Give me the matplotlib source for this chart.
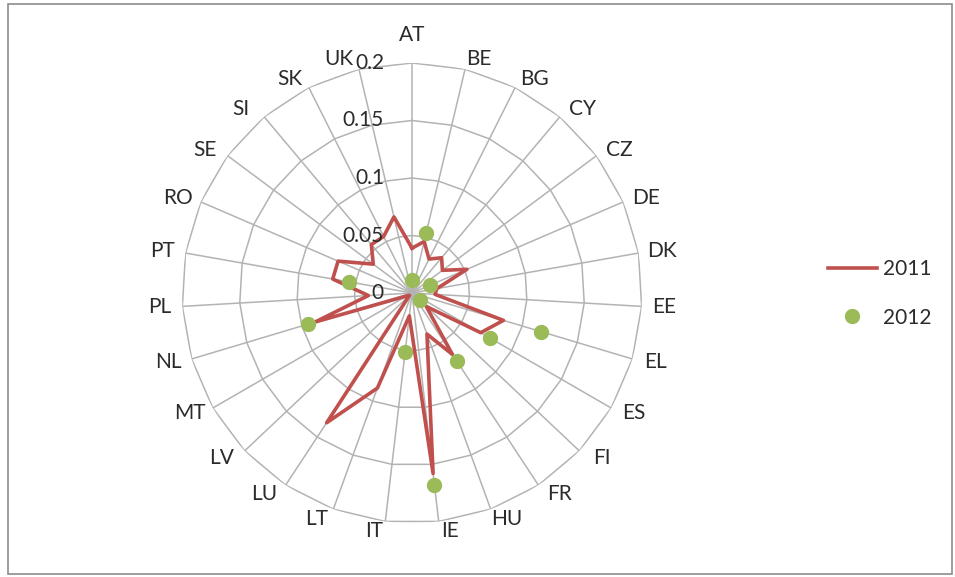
import numpy as np
import matplotlib.pyplot as plt
from matplotlib.lines import Line2D
from matplotlib.patches import Rectangle

plt.rcParams['font.family'] = ['Lato', 'DejaVu Sans']

countries = ['AT', 'BE', 'BG', 'CY', 'CZ', 'DE', 'DK', 'EE', 'EL', 'ES', 'FI', 'FR', 'HU', 'IE',
             'IT', 'LT', 'LU', 'LV', 'MT', 'NL', 'PL', 'PT', 'RO', 'SE', 'SI', 'SK', 'UK']
v2011 = [0.039, 0.046, 0.033, 0.040, 0.033, 0.052, 0.022, 0.020, 0.083, 0.069, 0.017, 0.064, 0.038, 0.158,
         0.020, 0.088, 0.135, 0.003, 0.005, 0.088, 0.038, 0.070, 0.070, 0.042, 0.055, 0.055, 0.068]
nan = np.nan
v2012 = [0.011, 0.054, nan, nan, nan, 0.017, nan, nan, 0.117, 0.078, 0.009, 0.071, nan, 0.168,
         0.052, nan, nan, nan, nan, 0.094, nan, 0.056, nan, nan, nan, nan, nan]
rticks = [0, 0.05, 0.1, 0.15, 0.2]
rlabels = ['0', '0.05', '0.1', '0.15', '0.2']

RED = '#C0504D'
GREEN = '#9BBB59'
GRID = '#B3B3B3'
TXT = '#2B2B2B'
FS = 15

W, H = 955, 577
cx, cy, R = 412, 293, 230

fig = plt.figure(figsize=(W / 100, H / 100), dpi=100)
ax = fig.add_axes([(cx - R) / W, (H - cy - R) / H, 2 * R / W, 2 * R / H], projection='polar')
ax.set_theta_zero_location('N')
ax.set_theta_direction(-1)
ax.set_ylim(0, 0.2)
ax.axis('off')

n = len(countries)
theta = np.arange(n) * 2 * np.pi / n
tt = np.append(theta, theta[0])

# polygon gridlines and spokes
for r in rticks[1:]:
    ax.plot(tt, [r] * (n + 1), color=GRID, lw=1.1, zorder=1)
for t in theta:
    ax.plot([t, t], [0, 0.2], color=GRID, lw=1.1, zorder=1)

ax.plot(tt, np.append(v2011, v2011[0]), color=RED, lw=2.6, zorder=3)
ax.plot(theta, v2012, 'o', ls='none', color=GREEN, ms=10, zorder=4)

for r, lab in zip(rticks, rlabels):
    ax.annotate(lab, xy=(0, r), xytext=(-28, 0), textcoords='offset pixels',
                ha='right', va='center', fontsize=FS, color=TXT, zorder=5)

# category labels sit just outside the outer ring, pushed sideways
for t, lab in zip(theta, countries):
    s, c = np.sin(t), np.cos(t)
    ox = np.sign(s) * min(9 + 22 * abs(s), 23)
    if s < 0 and c > 0.9:
        ox -= 6  # keep clear of the 0.2 tick label
    oy = 10 * c + 18 * np.exp(-(t / 0.12) ** 2)
    ax.annotate(lab, xy=(t, 0.2), xytext=(ox, oy), textcoords='offset pixels',
                ha='center', va='center', fontsize=FS, color=TXT)

handles = [Line2D([], [], color=RED, lw=2.6),
           Line2D([], [], marker='o', ls='none', color=GREEN, ms=10)]
fig.legend(handles, ['2011', '2012'], loc='center left', bbox_to_anchor=(828 / W, 1 - 293.5 / H),
           frameon=False, fontsize=FS, handlelength=2.35, handletextpad=0.28,
           labelspacing=1.35, borderpad=0, borderaxespad=0, labelcolor=TXT)

fig.patches.append(Rectangle((8 / W, 1 - 574 / H), 944 / W, 570 / H, transform=fig.transFigure,
                             fill=False, ec='#8C8C8C', lw=1.2))

fig.savefig('out.png', dpi=100)
